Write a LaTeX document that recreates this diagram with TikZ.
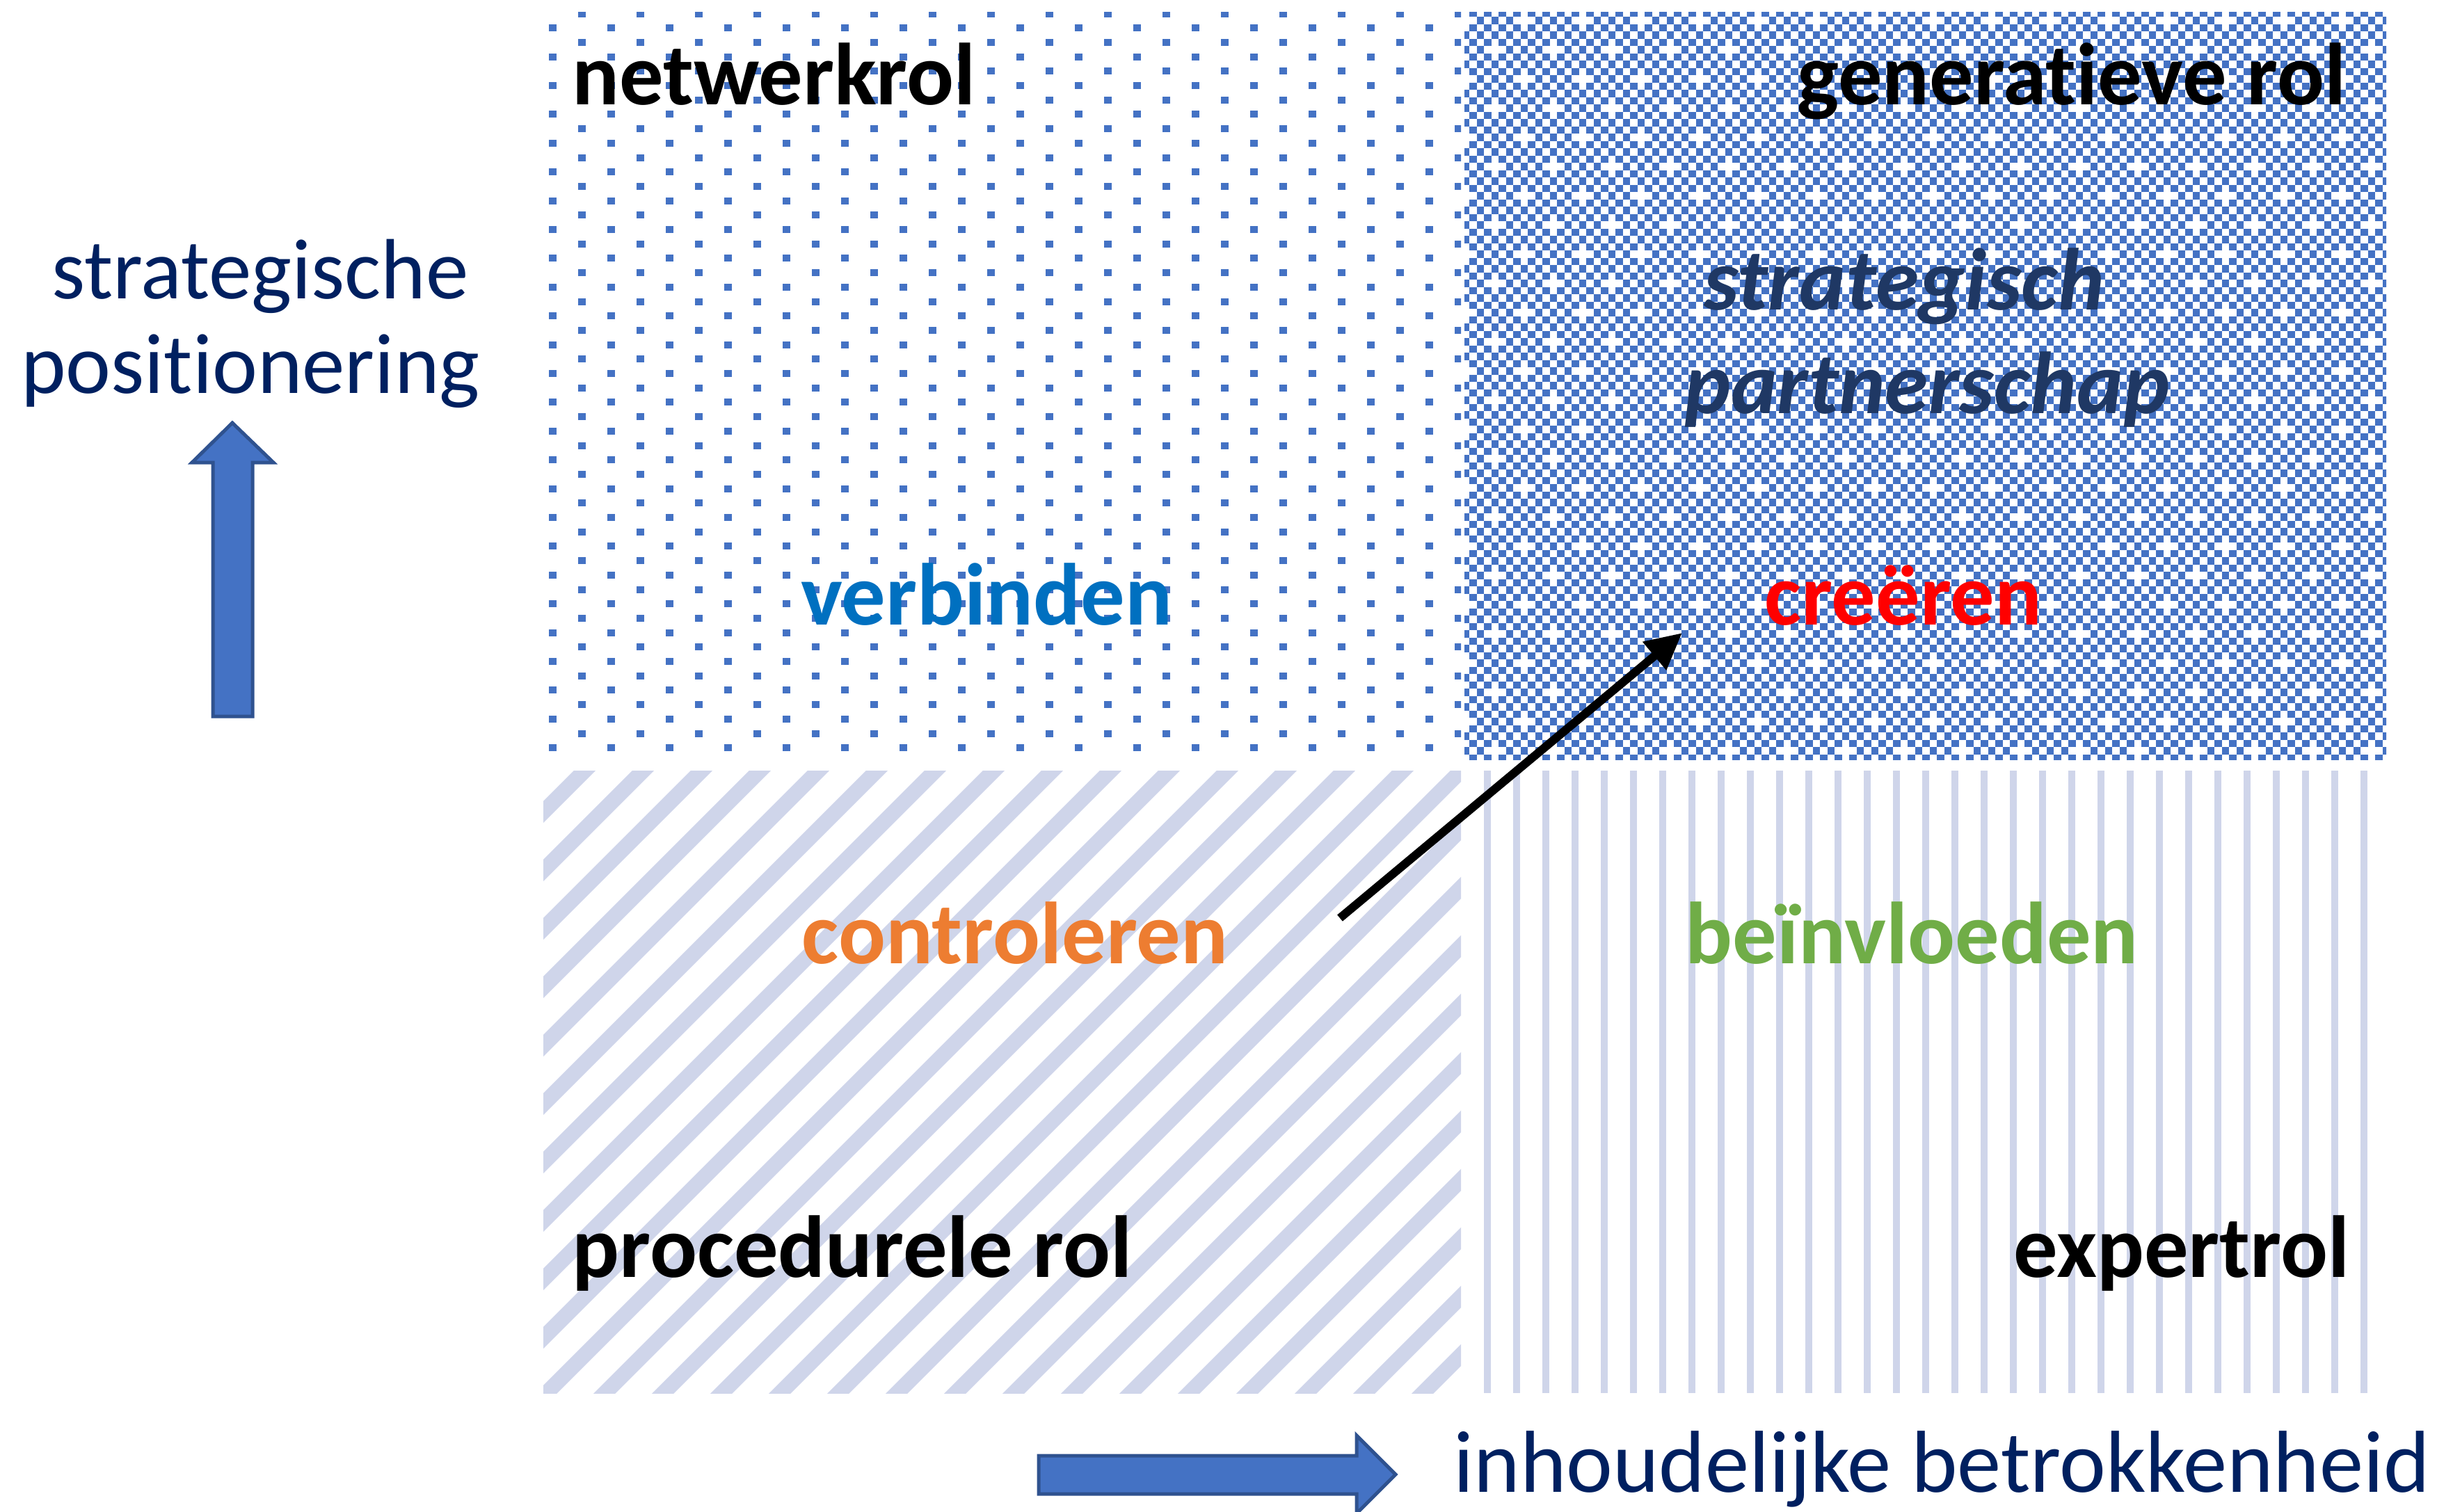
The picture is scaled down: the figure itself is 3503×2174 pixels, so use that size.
\documentclass[tikz,border=0pt]{standalone}
\usepackage{fontspec}
\setmainfont[Ligatures=NoCommon]{Carlito}
\usetikzlibrary{arrows.meta}

\definecolor{vlakblauw}{HTML}{4472C4}
\definecolor{randblauw}{HTML}{2F528F}
\definecolor{lichtblauw}{HTML}{CFD5EA}
\definecolor{marine}{HTML}{002060}
\definecolor{partnerblauw}{HTML}{1F3864}
\definecolor{verbindblauw}{HTML}{0070C0}
\definecolor{oranje}{HTML}{ED7D31}
\definecolor{groen}{HTML}{70AD47}
\definecolor{rood}{HTML}{FF0000}

\tikzset{
  rolnaam/.style={font=\fontsize{36pt}{43pt}\selectfont\bfseries, text=black},
  actie/.style={font=\fontsize{36pt}{43pt}\selectfont\bfseries},
  partner/.style={font=\fontsize{36pt}{43pt}\selectfont\bfseries\itshape, text=partnerblauw},
  asnaam/.style={font=\fontsize{35pt}{42pt}\selectfont, text=marine},
  blokpijl/.style={fill=vlakblauw, draw=randblauw, line width=0.5mm, line join=miter}
}

\begin{document}
\begin{tikzpicture}[x=0.1mm, y=-0.1mm, every node/.style={inner sep=0pt}]
\useasboundingbox (0,0) rectangle (3503,2174);

% Stippen: netwerkrol
\begin{scope}
  \clip (781,17) rectangle (2100,1092);
  \foreach \k in {0,...,51} {
    \pgfmathsetmacro{\yy}{14.5+20.7*\k}
    \pgfmathsetmacro{\xs}{831-42*mod(\k,2)}
    \foreach \j in {0,...,15} {
      \fill[vlakblauw] ({\xs+84*\j},\yy) rectangle ++(10.5,10);
    }
  }
\end{scope}

% Dambord: generatieve rol
\begin{scope}
  \clip (2105,17) rectangle (3430,1092);
  \foreach \m in {-1,...,101} {
    \pgfmathsetmacro{\yy}{29.25+10.5*\m}
    \pgfmathsetmacro{\fase}{1.05*mod(\m+1,2)}
    \draw[vlakblauw, line width=1.05mm, dash pattern=on 1.05mm off 1.05mm, dash phase=\fase mm] (2070,\yy) -- (3440,\yy);
  }
  % gaatjes
  \foreach \m in {0,4,...,100} {
    \pgfmathsetmacro{\yy}{29.25+10.5*\m}
    \pgfmathsetmacro{\fase}{mod(\m,8)==0 ? 5.25 : 1.05}
    \draw[white, line width=1.05mm, dash pattern=on 1.05mm off 7.35mm, dash phase=\fase mm] (2070,\yy) -- (3440,\yy);
  }
\end{scope}

% Schuine arcering: procedurele rol
\begin{scope}
  \clip (781,1108) rectangle (2100,2003);
  \foreach \k in {-1,...,27} {
    \pgfmathsetmacro{\s}{1948.5+84*\k}
    \draw[lichtblauw, line width=2.2mm] ({\s-2050},2050) -- ({\s-1060},1060);
  }
\end{scope}

% Verticale lijnen: expertrol
\foreach \j in {0,...,30} {
  \draw[lichtblauw, line width=1mm] ({2138+42*\j},1108) -- ++(0,895);
}

% Rollen
\node[rolnaam, anchor=base west] (netwerk) at (822,150) {netwerkrol};
\node[rolnaam, anchor=base east] (generatief) at (3373,150) {generatieve rol};
\node[rolnaam, anchor=base west] (procedureel) at (822,1836) {procedurele rol};
\node[rolnaam, anchor=base east] (expert) at (3378,1836) {expertrol};

% Acties
\node[actie, text=verbindblauw, anchor=base] (verbinden) at (1418,898) {verbinden};
\node[actie, text=rood, anchor=base] (creeren) at (2736,898) {creëren};
\node[actie, text=oranje, anchor=base] (controleren) at (1459,1385) {controleren};
\node[actie, text=groen, anchor=base] (beinvloeden) at (2748,1385) {beïnvloeden};

\node[partner, anchor=base] (partner1) at (2737,445) {strategisch};
\node[partner, anchor=base] (partner2) at (2770,594) {partnerschap};

% Assen
\node[asnaam, anchor=base] (positie1) at (374,429) {strategische};
\node[asnaam, anchor=base] (positie2) at (360,565) {positionering};
\node[asnaam, font=\fontsize{36pt}{43pt}\selectfont, anchor=base west] (inhoud) at (2089,2145) {inhoudelijke betrokkenheid};

\draw[blokpijl] (334,608) -- (393,665) -- (363,665) -- (363,1030) -- (306,1030) -- (306,665) -- (276,665) -- cycle;
\draw[blokpijl] (1493,2093) -- (1950,2093) -- (1950,2064) -- (2006,2120) -- (1950,2176) -- (1950,2148) -- (1493,2148) -- cycle;

% Groeipad
\coordinate (van) at (1926,1320);
\coordinate (naar) at (2418,910);
\draw[line width=1.2mm, -{Triangle[length=5.2mm, width=5mm]}] (van) -- (naar);

\end{tikzpicture}
\end{document}
